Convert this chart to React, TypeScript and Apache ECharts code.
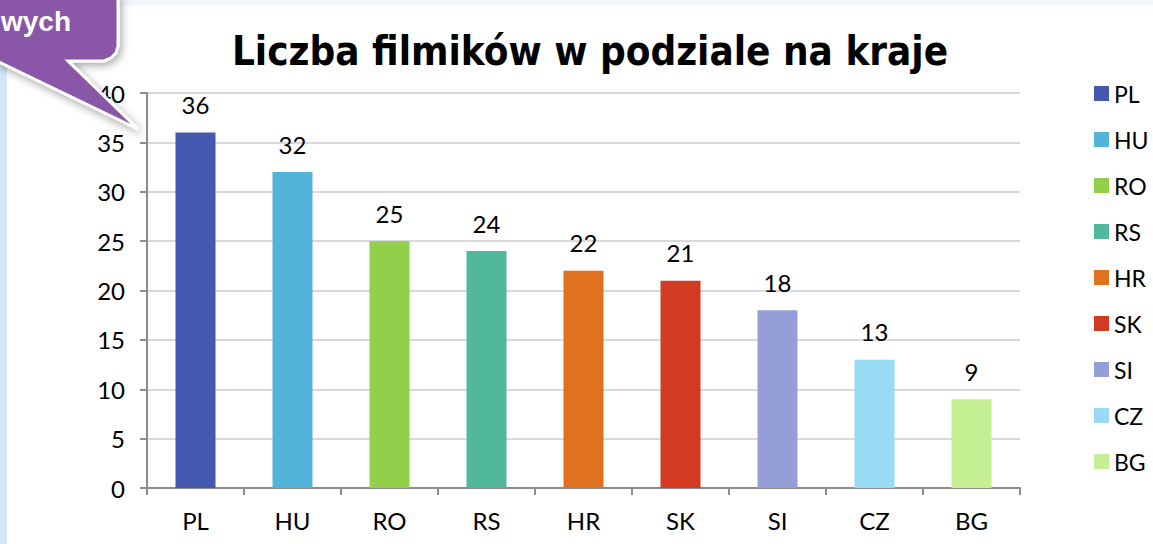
import React, { useEffect, useRef } from "react";
import * as echarts from "echarts";

const categories = ["PL", "HU", "RO", "RS", "HR", "SK", "SI", "CZ", "BG"];
const values = [36, 32, 25, 24, 22, 21, 18, 13, 9];
const colors = ["#4559b0", "#52b4d9", "#92cf4a", "#52b89c", "#e0711e", "#d33a22", "#949fd9", "#98d9f3", "#c4ef93"];
const titleText = "Liczba filmików w podziale na kraje";
const calloutText = "wych";

export default function App() {
  const ref = useRef<HTMLDivElement>(null);
  useEffect(() => {
    if (!ref.current) return;
    const chart = echarts.init(ref.current, null, { renderer: "svg" });
    const labelFont = "Lato, 'Open Sans', sans-serif";
    const series = categories.map((c, i) => ({
      name: c,
      type: "bar",
      stack: "all",
      barWidth: 40,
      itemStyle: { color: colors[i] },
      label: {
        show: true,
        position: "top",
        distance: 16,
        color: "#000",
        fontSize: 24,
        fontFamily: labelFont,
      },
      data: categories.map((_, j) => (j === i ? values[i] : null)),
    }));
    chart.setOption({
      animation: false,
      backgroundColor: "#ffffff",
      title: {
        text: titleText,
        left: 585,
        textAlign: "center",
        top: 26,
        textStyle: { fontSize: 40, fontWeight: "bold", color: "#000", fontFamily: "'DejaVu Sans Condensed', 'DejaVu Sans', sans-serif" },
      },
      grid: { left: 147, right: 133, top: 93, bottom: 56, containLabel: false },
      legend: {
        orient: "vertical",
        left: 1089,
        top: 77,
        icon: "rect",
        itemWidth: 15,
        itemHeight: 15,
        itemGap: 23,
        itemStyle: { borderWidth: 0 },
        textStyle: { fontSize: 23, color: "#000", fontFamily: labelFont, lineHeight: 20 },
        data: categories,
      },
      xAxis: {
        type: "category",
        data: categories,
        axisLine: { lineStyle: { color: "#8c8c8c", width: 2 } },
        axisTick: { show: true, length: 7, lineStyle: { color: "#8c8c8c", width: 2 }, alignWithLabel: false },
        axisLabel: { fontSize: 24, color: "#000", fontFamily: labelFont, margin: 20 },
      },
      yAxis: {
        type: "value",
        min: 0,
        max: 40,
        interval: 5,
        axisLine: { show: true, lineStyle: { color: "#8c8c8c", width: 2 } },
        axisTick: { show: true, length: 7, lineStyle: { color: "#8c8c8c", width: 2 } },
        splitLine: { lineStyle: { color: "#d9d9d9", width: 2 } },
        axisLabel: { fontSize: 24, color: "#000", fontFamily: labelFont, margin: 22 },
      },
      graphic: [
        { type: "rect", left: 0, top: 0, shape: { width: 1153, height: 6 }, style: { fill: "#f3f7fc" }, z: 100 },
        { type: "rect", left: 0, top: 0, shape: { width: 7, height: 544 }, style: { fill: "#d3e6f9" }, z: 100 },
        {
          type: "polygon",
          z: 101,
          shape: {
            points: [
              [-5, -5], [118, -5], [118, 46], [116, 53], [111, 58], [104, 61],
              [68, 61], [138, 129], [-5, 60],
            ],
          },
          style: {
            fill: "#8957a8",
            stroke: "#ffffff",
            lineWidth: 3,
            shadowBlur: 8,
            shadowOffsetX: 2,
            shadowOffsetY: 3,
            shadowColor: "rgba(0,0,0,0.35)",
          },
        },
        {
          type: "text",
          z: 102,
          x: 71,
          y: 35,
          style: {
            text: calloutText,
            fill: "#ffffff",
            font: "bold 28px 'Liberation Sans', Arial, sans-serif",
            textAlign: "right",
            textVerticalAlign: "bottom",
          },
        },
      ],
      series,
    });
    return () => chart.dispose();
  }, []);
  return <div ref={ref} style={{ position: "fixed", left: 0, top: 0, width: 1153, height: 544 }} />;
}
